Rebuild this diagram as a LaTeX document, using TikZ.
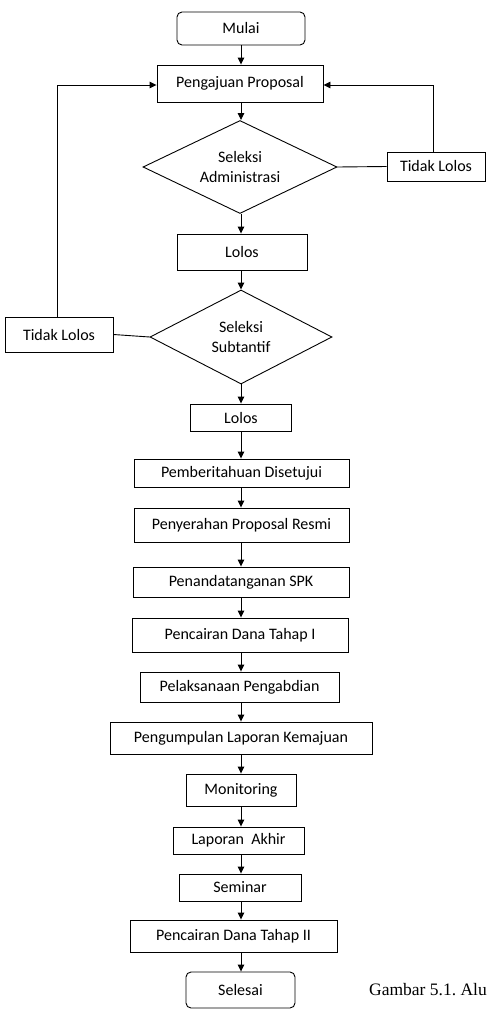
\documentclass[tikz,border=0pt]{standalone}
\usepackage{fontspec}
\setmainfont{Carlito}
\newfontfamily\capfont{Liberation Serif}
\usetikzlibrary{shapes.geometric,arrows.meta}
\frenchspacing

\begin{document}
\begin{tikzpicture}[x=1pt,y=-1pt,
  every node/.style={font=\fontsize{16}{20}\selectfont,align=center,inner sep=0pt},
  box/.style={draw,line width=0.9pt},
  terminal/.style={box,rounded corners=5pt},
  decision/.style={box,diamond,aspect=2},
  flow/.style={line width=0.9pt,-{Triangle[length=7pt,width=6.5pt]}},
  link/.style={line width=0.9pt}]
  \useasboundingbox (0,0) rectangle (488,1020);
  % alur utama
  \node[terminal,minimum width=128,minimum height=33] (mulai) at (241,28.5) {Mulai};
  \node[box,minimum width=166,minimum height=37] (pengajuan) at (240,83.5) {Pengajuan Proposal};
  \node[decision,minimum width=194,minimum height=93] (adm) at (240,167) {Seleksi\\ Administrasi};
  \node[box,minimum width=98,minimum height=29] (tlolosa) at (436,166.5) {Tidak Lolos};
  \node[box,minimum width=130,minimum height=36] (lolosa) at (242,252) {Lolos};
  \node[decision,minimum width=182,minimum height=94] (subst) at (241,337) {Seleksi\\ Subtantif};
  \node[box,minimum width=108,minimum height=35] (tlolosb) at (59,334.5) {Tidak Lolos};
  \node[box,minimum width=101,minimum height=27] (lolosb) at (241,417.5) {Lolos};
  \node[box,minimum width=215,minimum height=28] (pemberitahuan) at (241.5,473) {Pemberitahuan Disetujui};
  \node[box,minimum width=215,minimum height=34] (penyerahan) at (241.5,525) {Penyerahan Proposal Resmi};
  \node[box,minimum width=216,minimum height=30] (spk) at (241,582) {Penandatanganan SPK};
  \node[box,minimum width=216,minimum height=34] (danaI) at (240,635) {Pencairan Dana Tahap I};
  \node[box,minimum width=199,minimum height=30] (pelaksanaan) at (239.5,687) {Pelaksanaan Pengabdian};
  \node[box,minimum width=262,minimum height=32] (kemajuan) at (241,738) {Pengumpulan Laporan Kemajuan};
  \node[box,minimum width=110,minimum height=32] (monitoring) at (241,790) {Monitoring};
  \node[box,minimum width=131,minimum height=27] (akhir) at (238.5,840.5) {Laporan\ \ Akhir};
  \node[box,minimum width=122,minimum height=27] (seminar) at (240,887.5) {Seminar};
  \node[box,minimum width=207,minimum height=32] (danaII) at (233.5,936) {Pencairan Dana Tahap II};
  \node[terminal,minimum width=109,minimum height=36] (selesai) at (240.5,990) {Selesai};
  \node[anchor=base west,font=\capfont\fontsize{17.5}{20}\selectfont] (caption) at (369,995) {Gambar 5.1. Alu};

  % panah ke bawah
  \foreach \a/\b in {mulai/pengajuan,pengajuan/adm,adm/lolosa,lolosa/subst,
      subst/lolosb,lolosb/pemberitahuan,pemberitahuan/penyerahan,
      penyerahan/spk,spk/danaI,danaI/pelaksanaan,pelaksanaan/kemajuan,
      kemajuan/monitoring,monitoring/akhir,akhir/seminar,seminar/danaII,
      danaII/selesai}
    \draw[flow] (\a.south -| mulai) -- (\b.north -| mulai);

  % kembali ke pengajuan
  \draw[link] (adm.east) -- (tlolosa.west);
  \draw[flow] ([xshift=-3pt]tlolosa.north) |- ([yshift=-1.5pt]pengajuan.east);
  \draw[link] (subst.west) -- (tlolosb.east);
  \draw[flow] ([xshift=-2pt]tlolosb.north) |- ([yshift=-1.5pt]pengajuan.west);
\end{tikzpicture}
\end{document}
